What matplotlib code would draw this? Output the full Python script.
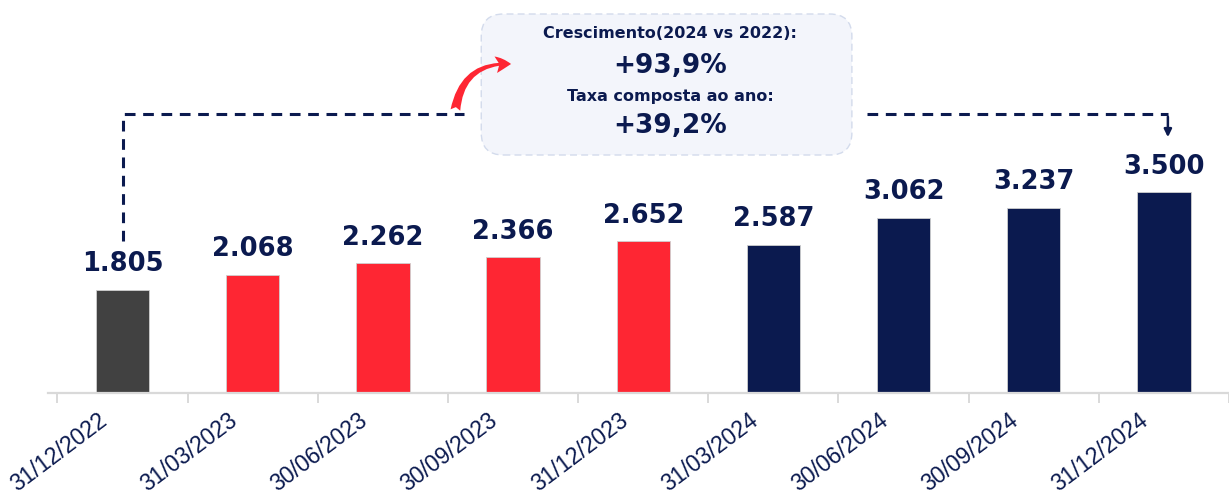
import matplotlib.pyplot as plt
from matplotlib.patches import FancyBboxPatch
import numpy as np

dates = ['31/12/2022', '31/03/2023', '30/06/2023', '30/09/2023', '31/12/2023',
         '31/03/2024', '30/06/2024', '30/09/2024', '31/12/2024']
values = [1.805, 2.068, 2.262, 2.366, 2.652, 2.587, 3.062, 3.237, 3.500]
value_labels = ['1.805', '2.068', '2.262', '2.366', '2.652', '2.587', '3.062', '3.237', '3.500']
colors = ['#414141'] + ['#fe2633'] * 4 + ['#0b1a4f'] * 4

growth_title = 'Crescimento(2024 vs 2022):'
growth_value = '+93,9%'
cagr_title = 'Taxa composta ao ano:'
cagr_value = '+39,2%'

NAVY = '#0b1a4f'
RED = '#fe2633'


def px_x(p):
    # pixel column -> data x
    return (p - 123) / 131


def px_y(p):
    # pixel row -> data y
    return (393 - p) / 57.3


def plot_data():
    fig = plt.figure(figsize=(12.29, 4.95), dpi=100)
    ax = fig.add_axes([48 / 1229, 1 - 393 / 495, 1 - 48 / 1229, 393 / 495])
    x = np.arange(len(values))

    ax.bar(x, values, width=0.41, color=colors, edgecolor='#cfcfcf', linewidth=0.6, zorder=2)
    ax.set_xlim(px_x(48), px_x(1229))
    ax.set_ylim(0, px_y(0))

    for spine in ['top', 'right', 'left']:
        ax.spines[spine].set_visible(False)
    ax.spines['bottom'].set_color('#d9d9d9')
    ax.spines['bottom'].set_linewidth(1.6)
    ax.set_yticks([])
    ax.set_xticks(np.arange(len(values) + 1) - 0.5)
    ax.tick_params(axis='x', length=7, width=1.4, color='#d9d9d9', labelbottom=False)

    # value labels
    for xi, v, lab in zip(x, values, value_labels):
        ax.annotate(lab, (xi, v), xytext=(0, 9), textcoords='offset points',
                    ha='center', va='bottom', fontsize=18.5, fontweight='bold', color=NAVY)

    # date labels
    for xi, d in zip(x, dates):
        ax.annotate(d, (xi, 0), xytext=(-13, -18), textcoords='offset points',
                    ha='right', va='center', rotation=37, rotation_mode='anchor',
                    fontsize=16.5, color=NAVY, family='Liberation Sans', annotation_clip=False)

    # dashed connector from first to last bar (broken around the callout)
    top_y = px_y(114)
    dash = dict(ls=(0, (3.5, 2.5)), color=NAVY, lw=2.2, zorder=3, clip_on=False)
    ax.plot([0, 0, px_x(467)], [values[0] + 0.85, top_y, top_y], **dash)
    ax.plot([px_x(872), px_x(1175)], [top_y, top_y], **dash)
    ax.annotate('', xy=(px_x(1175), px_y(140)), xytext=(px_x(1175), top_y),
                arrowprops=dict(arrowstyle='-|>,head_length=0.45,head_width=0.22',
                                color=NAVY, lw=1.8), annotation_clip=False)

    # callout box
    bx0, bx1 = px_x(484), px_x(857)
    by0, by1 = px_y(155), px_y(14)
    box = FancyBboxPatch((bx0, by0), bx1 - bx0, by1 - by0,
                         boxstyle='round,pad=0,rounding_size=0.17',
                         mutation_aspect=131 / 57.3, facecolor='#f3f5fb',
                         edgecolor='#d3dbec', linestyle=(0, (5, 3)), linewidth=1.0,
                         zorder=4, clip_on=False)
    ax.add_patch(box)
    cx = px_x(674)
    ax.text(cx, px_y(34), growth_title, ha='center', va='center',
            fontsize=11.5, fontweight='bold', color=NAVY, zorder=5)
    ax.text(cx, px_y(66), growth_value, ha='center', va='center',
            fontsize=19, fontweight='bold', color=NAVY, zorder=5)
    ax.text(cx, px_y(96), cagr_title, ha='center', va='center',
            fontsize=11.5, fontweight='bold', color=NAVY, zorder=5)
    ax.text(cx, px_y(126), cagr_value, ha='center', va='center',
            fontsize=19, fontweight='bold', color=NAVY, zorder=5)

    # red curved arrow
    ax.annotate('', xy=(px_x(514), px_y(64)), xytext=(px_x(458), px_y(110)),
                arrowprops=dict(arrowstyle='fancy,head_length=1.1,head_width=1.2,tail_width=0.7',
                                connectionstyle='arc3,rad=-0.45', color=RED, lw=0,
                                shrinkA=0, shrinkB=0),
                zorder=6, annotation_clip=False)

    fig.savefig('out.png', dpi=100)


def main():
    plot_data()


if __name__ == "__main__":
    main()
